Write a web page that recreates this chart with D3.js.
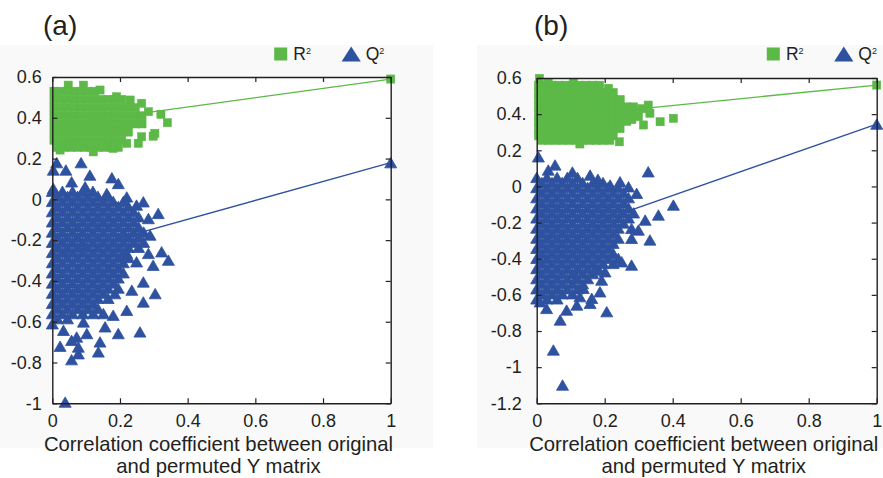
<!DOCTYPE html>
<html>
<head>
<meta charset="utf-8">
<script src="https://cdn.jsdelivr.net/npm/d3@7"></script>
<style>
  body { margin: 0; background: #fff; }
  text { font-family: "Liberation Sans", Arial, sans-serif; fill: #231f20; }
</style>
</head>
<body>
<script>
// ---- data ----
const xTicks = [0, 0.2, 0.4, 0.6, 0.8, 1];
const xTickLabels = ['0', '0.2', '0.4', '0.6', '0.8', '1'];

const yTicksA = [0.6, 0.4, 0.2, 0, -0.2, -0.4, -0.6, -0.8, -1];
const yTickLabelsA = ['0.6', '0.4', '0.2', '0', '-0.2', '-0.4', '-0.6', '-0.8', '-1'];
const yTicksB = [0.6, 0.4, 0.2, 0, -0.2, -0.4, -0.6, -0.8, -1, -1.2];
const yTickLabelsB = ['0.6', '0.4.', '0.2', '0', '-0.2', '-0.4', '-0.6', '-0.8', '-1', '-1.2'];

// regression lines: [intercept at x=0, original model value at x=1]
const fitR2A = [0.362, 0.59];
const fitQ2A = [-0.283, 0.18];
const fitR2B = [0.373, 0.561];
const fitQ2B = [-0.314, 0.345];

// permuted R2, panel (a): rows of [y, x values] inside the dense cloud
const r2RowsA = [
  [0.53, [0.005, 0.025, 0.045, 0.065, 0.085, 0.105, 0.125]],
  [0.49, [0.005, 0.025, 0.045, 0.065, 0.085, 0.105, 0.125, 0.145, 0.165, 0.185, 0.205]],
  [0.45, [0.005, 0.025, 0.045, 0.065, 0.085, 0.105, 0.125, 0.145, 0.165, 0.185, 0.205, 0.225, 0.245]],
  [0.41, [0.005, 0.025, 0.045, 0.065, 0.085, 0.105, 0.125, 0.145, 0.165, 0.185, 0.205, 0.225, 0.245, 0.265]],
  [0.37, [0.005, 0.025, 0.045, 0.065, 0.085, 0.105, 0.125, 0.145, 0.165, 0.185, 0.205, 0.225, 0.245, 0.265]],
  [0.33, [0.005, 0.025, 0.045, 0.065, 0.085, 0.105, 0.125, 0.145, 0.165, 0.185, 0.205, 0.225]],
  [0.29, [0.005, 0.025, 0.045, 0.065, 0.085, 0.105, 0.125, 0.145, 0.165, 0.185, 0.205]],
  [0.255, [0.015, 0.035, 0.055, 0.075, 0.095, 0.115, 0.135, 0.155, 0.175, 0.195]]
];
const r2EdgeA = [
  [0.008, 0.528], [0.047, 0.56], [0.092, 0.56], [0.141, 0.536], [0.19, 0.503], [0.23, 0.487],
  [0.264, 0.471], [0.284, 0.43], [0.321, 0.417], [0.34, 0.376], [0.303, 0.324], [0.298, 0.31],
  [0.264, 0.307], [0.254, 0.275], [0.22, 0.275], [0.023, 0.242], [0.121, 0.233], [0.18, 0.25],
  [1, 0.59]
];

// permuted Q2, panel (a)
const q2RowsA = [
  [0.04, [0, 0.03, 0.06, 0.09, 0.12]],
  [0.015, [0.015, 0.045, 0.075, 0.105, 0.135, 0.165]],
  [-0.01, [0, 0.03, 0.06, 0.09, 0.12, 0.15, 0.18, 0.21]],
  [-0.035, [0.015, 0.045, 0.075, 0.105, 0.135, 0.165, 0.195, 0.225]],
  [-0.06, [0, 0.03, 0.06, 0.09, 0.12, 0.15, 0.18, 0.21, 0.24]],
  [-0.085, [0.015, 0.045, 0.075, 0.105, 0.135, 0.165, 0.195, 0.225, 0.255]],
  [-0.11, [0, 0.03, 0.06, 0.09, 0.12, 0.15, 0.18, 0.21, 0.24]],
  [-0.135, [0.015, 0.045, 0.075, 0.105, 0.135, 0.165, 0.195, 0.225, 0.255]],
  [-0.16, [0, 0.03, 0.06, 0.09, 0.12, 0.15, 0.18, 0.21, 0.24, 0.27]],
  [-0.185, [0.015, 0.045, 0.075, 0.105, 0.135, 0.165, 0.195, 0.225, 0.255]],
  [-0.21, [0, 0.03, 0.06, 0.09, 0.12, 0.15, 0.18, 0.21, 0.24, 0.27]],
  [-0.235, [0.015, 0.045, 0.075, 0.105, 0.135, 0.165, 0.195, 0.225, 0.255]],
  [-0.26, [0, 0.03, 0.06, 0.09, 0.12, 0.15, 0.18, 0.21]],
  [-0.285, [0.015, 0.045, 0.075, 0.105, 0.135, 0.165, 0.195, 0.225]],
  [-0.31, [0, 0.03, 0.06, 0.09, 0.12, 0.15, 0.18, 0.21]],
  [-0.335, [0.015, 0.045, 0.075, 0.105, 0.135, 0.165, 0.195]],
  [-0.36, [0, 0.03, 0.06, 0.09, 0.12, 0.15, 0.18, 0.21]],
  [-0.385, [0.015, 0.045, 0.075, 0.105, 0.135, 0.165, 0.195]],
  [-0.41, [0, 0.03, 0.06, 0.09, 0.12, 0.15, 0.18]],
  [-0.435, [0.015, 0.045, 0.075, 0.105, 0.135, 0.165, 0.195]],
  [-0.46, [0, 0.03, 0.06, 0.09, 0.12, 0.15]],
  [-0.485, [0.015, 0.045, 0.075, 0.105, 0.135, 0.165]],
  [-0.51, [0, 0.03, 0.06, 0.09, 0.12]],
  [-0.535, [0.015, 0.045, 0.075, 0.105, 0.135]],
  [-0.56, [0, 0.03, 0.06, 0.09]],
  [-0.585, [0.015, 0.045]],
  [-0.61, [0]]
];
const q2EdgeA = [
  [0.013, 0.18], [0.085, 0.18], [0.003, 0.144], [0.04, 0.144], [0.111, 0.119], [0.176, 0.106],
  [0.195, 0.078], [0.057, 0.086], [0.003, 0.054], [0.097, 0.062], [0.161, 0.029], [0.22, 0.012],
  [0.269, -0.012], [0.249, -0.028], [0.313, -0.069], [0.284, -0.094], [0.289, -0.175], [0.284, -0.265],
  [0.323, -0.257], [0.343, -0.298], [0.298, -0.323], [0.249, -0.306], [0.22, -0.265], [0.269, -0.405],
  [0.235, -0.445], [0.304, -0.462], [0.269, -0.503], [0.22, -0.544], [0.18, -0.568], [0.259, -0.65],
  [0.195, -0.658], [0.185, -0.462], [0.141, -0.699], [0.136, -0.748], [0.156, -0.625], [0.102, -0.658],
  [0.121, -0.56], [0.072, -0.675], [0.077, -0.724], [0.077, -0.757], [0.057, -0.786], [0.023, -0.72],
  [0.038, -0.994], [0.033, -0.642], [0.057, -0.691], [0.151, -0.56], [0.092, -0.601],
  [1, 0.18]
];

// permuted R2, panel (b)
const r2RowsB = [
  [0.56, [0.005, 0.025, 0.045, 0.065, 0.085, 0.105, 0.125, 0.145, 0.165, 0.185]],
  [0.52, [0.005, 0.025, 0.045, 0.065, 0.085, 0.105, 0.125, 0.145, 0.165, 0.185, 0.205, 0.225]],
  [0.48, [0.005, 0.025, 0.045, 0.065, 0.085, 0.105, 0.125, 0.145, 0.165, 0.185, 0.205, 0.225, 0.245]],
  [0.44, [0.005, 0.025, 0.045, 0.065, 0.085, 0.105, 0.125, 0.145, 0.165, 0.185, 0.205, 0.225, 0.245, 0.265, 0.285]],
  [0.40, [0.005, 0.025, 0.045, 0.065, 0.085, 0.105, 0.125, 0.145, 0.165, 0.185, 0.205, 0.225, 0.245, 0.265, 0.285]],
  [0.36, [0.005, 0.025, 0.045, 0.065, 0.085, 0.105, 0.125, 0.145, 0.165, 0.185, 0.205, 0.225, 0.245, 0.265]],
  [0.32, [0.005, 0.025, 0.045, 0.065, 0.085, 0.105, 0.125, 0.145, 0.165, 0.185, 0.205, 0.225, 0.245]],
  [0.28, [0.005, 0.025, 0.045, 0.065, 0.085, 0.105, 0.125, 0.145, 0.165, 0.185, 0.205, 0.225]],
  [0.255, [0.015, 0.035, 0.055, 0.075, 0.095, 0.115, 0.135, 0.155, 0.175, 0.195, 0.215]]
];
const r2EdgeB = [
  [0.008, 0.598], [0.034, 0.574], [0.108, 0.574], [0.162, 0.556], [0.211, 0.543], [0.245, 0.478],
  [0.328, 0.45], [0.333, 0.405], [0.314, 0.34], [0.363, 0.358], [0.402, 0.377], [0.299, 0.386],
  [0.127, 0.235], [0.243, 0.247], [0.28, 0.37], [0.31, 0.43],
  [1, 0.561]
];

// permuted Q2, panel (b)
const q2RowsB = [
  [0.05, [0, 0.03, 0.06, 0.09, 0.12]],
  [0.022, [0.015, 0.045, 0.075, 0.105, 0.135, 0.165, 0.195]],
  [-0.006, [0, 0.03, 0.06, 0.09, 0.12, 0.15, 0.18, 0.21, 0.24]],
  [-0.034, [0.015, 0.045, 0.075, 0.105, 0.135, 0.165, 0.195, 0.225, 0.255]],
  [-0.062, [0, 0.03, 0.06, 0.09, 0.12, 0.15, 0.18, 0.21, 0.24, 0.27]],
  [-0.09, [0.015, 0.045, 0.075, 0.105, 0.135, 0.165, 0.195, 0.225, 0.255]],
  [-0.118, [0, 0.03, 0.06, 0.09, 0.12, 0.15, 0.18, 0.21, 0.24, 0.27]],
  [-0.146, [0.015, 0.045, 0.075, 0.105, 0.135, 0.165, 0.195, 0.225, 0.255, 0.285]],
  [-0.174, [0, 0.03, 0.06, 0.09, 0.12, 0.15, 0.18, 0.21, 0.24, 0.27]],
  [-0.202, [0.015, 0.045, 0.075, 0.105, 0.135, 0.165, 0.195, 0.225, 0.255]],
  [-0.23, [0, 0.03, 0.06, 0.09, 0.12, 0.15, 0.18, 0.21, 0.24]],
  [-0.258, [0.015, 0.045, 0.075, 0.105, 0.135, 0.165, 0.195, 0.225]],
  [-0.286, [0, 0.03, 0.06, 0.09, 0.12, 0.15, 0.18, 0.21, 0.24]],
  [-0.314, [0.015, 0.045, 0.075, 0.105, 0.135, 0.165, 0.195, 0.225]],
  [-0.342, [0, 0.03, 0.06, 0.09, 0.12, 0.15, 0.18, 0.21]],
  [-0.37, [0.015, 0.045, 0.075, 0.105, 0.135, 0.165, 0.195, 0.225]],
  [-0.398, [0, 0.03, 0.06, 0.09, 0.12, 0.15, 0.18, 0.21, 0.24]],
  [-0.426, [0.015, 0.045, 0.075, 0.105, 0.135, 0.165, 0.195, 0.225]],
  [-0.454, [0, 0.03, 0.06, 0.09, 0.12, 0.15, 0.18]],
  [-0.482, [0.015, 0.045, 0.075, 0.105, 0.135, 0.165]],
  [-0.51, [0, 0.03, 0.06, 0.09, 0.12, 0.15]],
  [-0.538, [0.015, 0.045, 0.075, 0.105, 0.135]],
  [-0.566, [0, 0.03, 0.06, 0.09, 0.12]],
  [-0.594, [0.015, 0.045, 0.075, 0.105]],
  [-0.622, [0, 0.03, 0.06]]
];
const q2EdgeB = [
  [0.005, 0.164], [0.034, 0.091], [0.054, 0.119], [0.157, 0.063], [0.328, 0.081], [0.245, 0.026],
  [0.216, 0.008], [0.27, -0.002], [0.294, -0.038], [0.402, -0.103], [0.358, -0.158], [0.319, -0.186],
  [0.299, -0.241], [0.279, -0.232], [0.333, -0.296], [0.279, -0.287], [0.279, -0.435], [0.25, -0.417],
  [0.206, -0.693], [0.069, -0.739], [0.049, -0.905], [0.076, -1.099], [0.157, -0.647], [0.118, -0.656],
  [0.088, -0.684], [0.029, -0.675], [0.01, -0.638], [0.191, -0.518], [0.186, -0.583], [0.162, -0.619],
  [0.127, -0.61], [0.137, -0.564], [0.118, -0.508], [0.171, -0.463], [0.201, -0.472], [0.105, 0.08],
  [0.18, 0.04],
  [1, 0.345]
];

const xTitle = ['Correlation coefficient between original', 'and permuted Y matrix'];

// ---- layout ----
const WIDTH = 883, HEIGHT = 478;
const GREEN = '#5cb947', BLUE = '#2e52a0', INK = '#231f20';
const SQ = 8.2, TRI_W = 12, TRI_H = 10.4;

const svg = d3.select('body').append('svg')
  .attr('width', WIDTH)
  .attr('height', HEIGHT);

const flatten = rows => rows.flatMap(([yv, xs]) => xs.map(xv => [xv, yv]));

const panels = [
  { tag: '(a)', tagX: 43, left: 52.3, right: 390.7, top: 77, bottom: 403.3, yDomain: [-1, 0.6],
    yTicks: yTicksA, yLabels: yTickLabelsA, yPad: 10.6, bg: [0, 45, 433, 403],
    r2: flatten(r2RowsA).concat(r2EdgeA), q2: flatten(q2RowsA).concat(q2EdgeA),
    fitR2: fitR2A, fitQ2: fitQ2A, legX: 280.7 },
  { tag: '(b)', tagX: 534, left: 536.7, right: 876.7, top: 78, bottom: 403.3, yDomain: [-1.2, 0.6],
    yTicks: yTicksB, yLabels: yTickLabelsB, yPad: 15, bg: [477, 45, 406, 403],
    r2: flatten(r2RowsB).concat(r2EdgeB), q2: flatten(q2RowsB).concat(q2EdgeB),
    fitR2: fitR2B, fitQ2: fitQ2B, legX: 773.3 }
];

const triPath = `M0,${-TRI_H / 2}L${TRI_W / 2},${TRI_H / 2}L${-TRI_W / 2},${TRI_H / 2}Z`;

function styleAxis(g) {
  g.attr('font-family', null);
  g.select('.domain').attr('stroke', INK).attr('stroke-width', 1.4);
  g.selectAll('.tick line').attr('stroke', INK).attr('stroke-width', 1.2);
  g.selectAll('.tick text').attr('font-size', 18).attr('fill', INK);
}

panels.forEach(p => {
  const x = d3.scaleLinear().domain([0, 1]).range([p.left, p.right]);
  const y = d3.scaleLinear().domain(p.yDomain).range([p.bottom, p.top]);
  const g = svg.append('g');

  g.append('rect')
    .attr('x', p.bg[0]).attr('y', p.bg[1])
    .attr('width', p.bg[2]).attr('height', p.bg[3])
    .attr('fill', '#f9f9f9');
  g.append('rect')
    .attr('x', p.left).attr('y', p.top)
    .attr('width', p.right - p.left).attr('height', p.bottom - p.top)
    .attr('fill', '#fff');

  // fitted lines under the markers
  const line = d3.line().x(d => x(d[0])).y(d => y(d[1]));
  g.append('path').datum([[0, p.fitR2[0]], [1, p.fitR2[1]]])
    .attr('d', line).attr('fill', 'none').attr('stroke', GREEN).attr('stroke-width', 1.3);
  g.append('path').datum([[0, p.fitQ2[0]], [1, p.fitQ2[1]]])
    .attr('d', line).attr('fill', 'none').attr('stroke', BLUE).attr('stroke-width', 1.3);

  // a thin same-colour outline closes the hairline seams between touching markers
  g.append('g').selectAll('rect')
    .data(p.r2)
    .join('rect')
    .attr('x', d => x(d[0]) - SQ / 2)
    .attr('y', d => y(d[1]) - SQ / 2)
    .attr('width', SQ).attr('height', SQ)
    .attr('fill', GREEN).attr('stroke', GREEN).attr('stroke-width', 0.5);

  g.append('g').selectAll('path')
    .data(p.q2)
    .join('path')
    .attr('d', triPath)
    .attr('transform', d => `translate(${x(d[0])},${y(d[1])})`)
    .attr('fill', BLUE).attr('stroke', BLUE).attr('stroke-width', 0.8)
    .attr('stroke-linejoin', 'round');

  // box with inward ticks on all sides
  g.append('g').attr('transform', `translate(0,${p.bottom})`)
    .call(d3.axisBottom(x).tickValues(xTicks).tickFormat((d, i) => xTickLabels[i])
      .tickSizeInner(-5).tickSizeOuter(0).tickPadding(11.2))
    .call(styleAxis);
  g.append('g').attr('transform', `translate(0,${p.top})`)
    .call(d3.axisTop(x).tickValues(xTicks).tickFormat('').tickSizeInner(-5).tickSizeOuter(0))
    .call(styleAxis);
  const yl = g.append('g').attr('transform', `translate(${p.left},0)`)
    .call(d3.axisLeft(y).tickValues(p.yTicks).tickFormat((d, i) => p.yLabels[i])
      .tickSizeInner(-5).tickSizeOuter(0).tickPadding(p.yPad))
    .call(styleAxis);
  yl.selectAll('.tick text').attr('dx', d => p.yLabels[p.yTicks.indexOf(d)].endsWith('.') ? 4.9 : 0);
  g.append('g').attr('transform', `translate(${p.right},0)`)
    .call(d3.axisRight(y).tickValues(p.yTicks).tickFormat('').tickSizeInner(-5).tickSizeOuter(0))
    .call(styleAxis);

  // panel tag
  g.append('text').attr('x', p.tagX).attr('y', 35).attr('font-size', 28).text(p.tag);

  // legend
  const lx = p.legX, ly = 54;
  g.append('rect').attr('x', lx - 6.5).attr('y', ly - 6.5).attr('width', 13).attr('height', 13).attr('fill', GREEN);
  const t1 = g.append('text').attr('x', lx + 12.6).attr('y', 60).attr('font-size', 17.5);
  t1.append('tspan').text('R');
  t1.append('tspan').attr('font-size', 9).attr('dy', -6.5).text('2');
  const tx = lx + 70.5;
  g.append('path')
    .attr('d', `M${tx},${ly - 7.5}L${tx + 9.6},${ly + 7.5}L${tx - 9.6},${ly + 7.5}Z`)
    .attr('fill', BLUE);
  const t2 = g.append('text').attr('x', tx + 14.5).attr('y', 60).attr('font-size', 17.5);
  t2.append('tspan').text('Q');
  t2.append('tspan').attr('font-size', 9).attr('dy', -6.5).text('2');

  // x axis title
  const cx = (p.left + p.right) / 2 - 3;
  g.append('text').attr('x', cx).attr('y', 451).attr('text-anchor', 'middle')
    .attr('font-size', 20.3).text(xTitle[0]);
  g.append('text').attr('x', cx).attr('y', 473).attr('text-anchor', 'middle')
    .attr('font-size', 20.3).text(xTitle[1]);
});
</script>
</body>
</html>
